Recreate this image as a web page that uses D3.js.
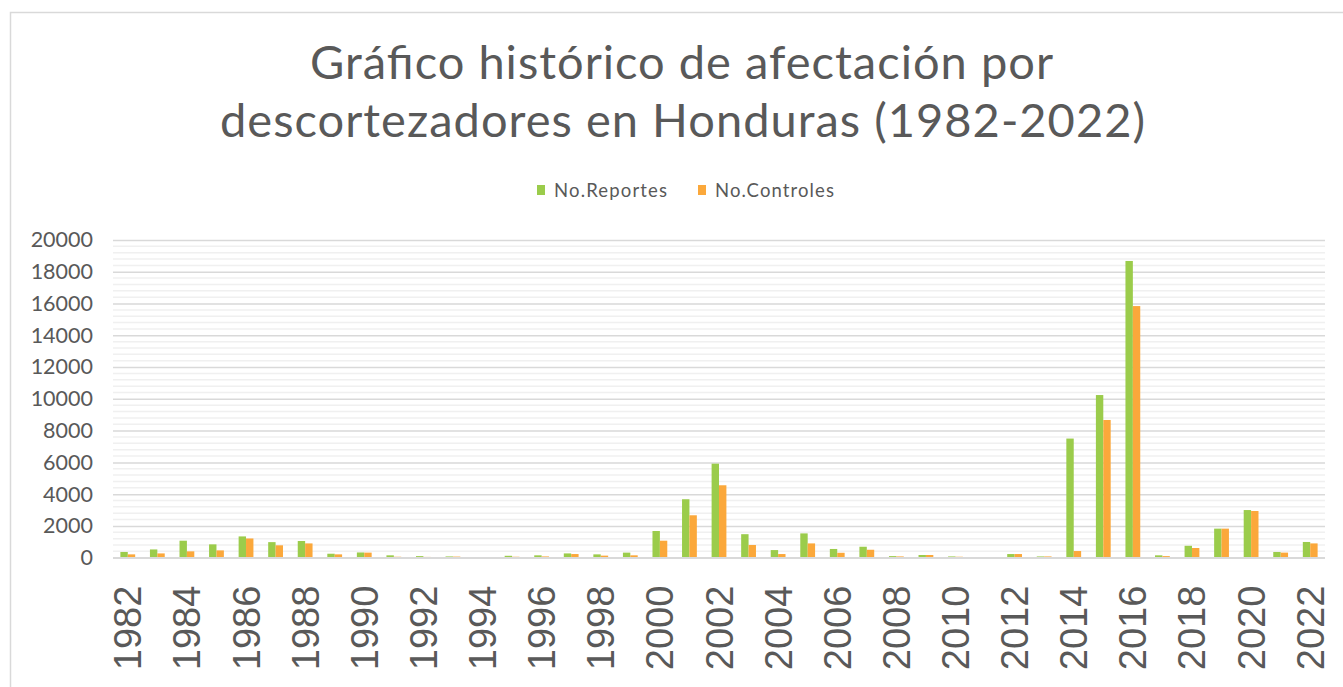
<!DOCTYPE html>
<html>
<head>
<meta charset="utf-8">
<script src="https://cdn.jsdelivr.net/npm/d3@7"></script>
<style>
  html, body { margin: 0; padding: 0; background: #fff; }
  svg { display: block; }
</style>
</head>
<body>
<script>
// data
const years = [
  "1982","1983","1984","1985","1986","1987","1988","1989","1990","1991",
  "1992","1993","1994","1995","1996","1997","1998","1999","2000","2001",
  "2002","2003","2004","2005","2006","2007","2008","2009","2010","2011",
  "2012","2013","2014","2015","2016","2017","2018","2019","2020","2021","2022"
];
const reportes = [
  360, 520, 1070, 840, 1340, 980, 1050, 250, 330, 150,
  100, 80, 30, 120, 150, 270, 210, 320, 1680, 3680,
  5920, 1480, 480, 1530, 550, 690, 100, 170, 80, 0,
  230, 80, 7500, 10240, 18680, 150, 750, 1830, 3000, 360, 990
];
const controles = [
  210, 270, 400, 460, 1210, 780, 900, 210, 320, 60,
  50, 70, 20, 60, 80, 230, 130, 150, 1070, 2670,
  4560, 800, 230, 900, 310, 500, 80, 170, 60, 0,
  230, 80, 420, 8670, 15840, 100, 610, 1830, 2940, 320, 900
];
const seriesNames = ["No.Reportes", "No.Controles"];
const seriesColors = ["#9bcc4b", "#fba83b"];
const titleLines = ["Gráfico histórico de afectación por", "descortezadores en Honduras (1982-2022)"];

const width = 1343, height = 687;
const plot = {left: 113, right: 1325, top: 240, bottom: 557.7};
const barW = 7.4;
const textColor = "#595959";
const uiFont = "Lato, 'Open Sans', sans-serif";

const rows = years.map((y, i) => ({year: y, values: [reportes[i], controles[i]]}));

const svg = d3.select("body").append("svg")
    .attr("width", width)
    .attr("height", height);

// chart frame
svg.append("path")
    .attr("d", `M10.5,${height + 2}V12.5H${width + 2}`)
    .attr("fill", "none")
    .attr("stroke", "#d9d9d9")
    .attr("stroke-width", 1.5);

// title
svg.append("g")
    .attr("fill", textColor)
    .attr("font-family", uiFont)
    .attr("font-size", 47)
    .attr("text-anchor", "middle")
  .selectAll("text")
  .data(titleLines)
  .join("text")
    .attr("x", (d, i) => i ? 682.5 : 681.5)
    .attr("y", (d, i) => i ? 137 : 79)
    .attr("textLength", (d, i) => i ? 925 : 743)
    .attr("lengthAdjust", "spacing")
    .text(d => d);

// legend
const legend = svg.append("g")
    .attr("font-family", uiFont)
    .attr("font-size", 18.5)
    .attr("fill", textColor)
  .selectAll("g")
  .data(seriesNames)
  .join("g")
    .attr("transform", (d, i) => `translate(${i ? 698 : 537},185)`);

legend.append("rect")
    .attr("width", 8)
    .attr("height", 10)
    .attr("fill", (d, i) => seriesColors[i]);

legend.append("text")
    .attr("x", 17)
    .attr("y", 11.5)
    .attr("textLength", (d, i) => i ? 119 : 113)
    .attr("lengthAdjust", "spacing")
    .text(d => d);

// scales
const x = d3.scaleBand()
    .domain(years)
    .range([plot.left, plot.right]);

const x1 = d3.scaleBand()
    .domain(seriesNames)
    .range([0, 2 * barW]);

const y = d3.scaleLinear()
    .domain([0, 20000])
    .range([plot.bottom, plot.top]);

// minor gridlines
svg.append("g")
    .attr("stroke", "#f0f0f0")
    .attr("stroke-width", 1.5)
  .selectAll("line")
  .data(d3.range(0, 20001, 400).filter(v => v % 2000))
  .join("line")
    .attr("x1", plot.left)
    .attr("x2", plot.right)
    .attr("y1", d => y(d))
    .attr("y2", d => y(d));

// major gridlines + y labels
const yAxis = svg.append("g")
    .attr("transform", `translate(${plot.left},0)`)
    .call(d3.axisLeft(y)
        .tickValues(d3.range(0, 20001, 2000))
        .tickSize(-(plot.right - plot.left))
        .tickPadding(20)
        .tickFormat(d3.format("d")));

yAxis.select(".domain").remove();
yAxis.selectAll(".tick line")
    .attr("stroke", "#d9d9d9")
    .attr("stroke-width", 1.5);
yAxis.selectAll(".tick text")
    .attr("fill", textColor)
    .attr("font-family", uiFont)
    .attr("font-size", 21.5);

// bars
const offset = (x.bandwidth() - 2 * barW) / 2;

svg.append("g")
  .selectAll("g")
  .data(rows)
  .join("g")
    .attr("transform", d => `translate(${x(d.year) + offset},0)`)
  .selectAll("rect")
  .data(d => d.values.map((v, i) => ({key: seriesNames[i], value: v, i})))
  .join("rect")
    .attr("x", d => x1(d.key))
    .attr("width", x1.bandwidth())
    .attr("y", d => y(d.value))
    .attr("height", d => y(0) - y(d.value))
    .attr("fill", d => seriesColors[d.i]);

// x axis line
svg.append("line")
    .attr("x1", plot.left)
    .attr("x2", plot.right)
    .attr("y1", y(0))
    .attr("y2", y(0))
    .attr("stroke", "#d9d9d9")
    .attr("stroke-width", 1.5);

// x labels: every other year, rotated
const xAxis = svg.append("g")
    .attr("transform", `translate(0,${y(0)})`)
    .call(d3.axisBottom(x)
        .tickValues(years.filter((d, i) => i % 2 === 0))
        .tickSize(0)
        .tickPadding(0));

xAxis.select(".domain").remove();
xAxis.selectAll(".tick text")
    .attr("fill", textColor)
    .attr("font-family", "'Liberation Sans', Arial, sans-serif")
    .attr("font-size", 38)
    .attr("text-anchor", "end")
    .attr("dy", null)
    .attr("y", 0)
    .attr("transform", "translate(13.5,28) rotate(-90)");
</script>
</body>
</html>
